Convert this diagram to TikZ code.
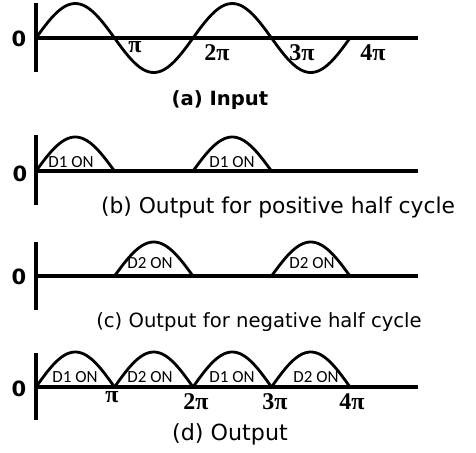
\documentclass[tikz,border=0pt]{standalone}
\usepackage{fontspec}
\usepackage{tikz}
\usetikzlibrary{positioning}
\newfontfamily\capfont{DejaVu Sans}
\newfontfamily\pifont{Liberation Serif}
\newfontfamily\tagfont{Carlito}

\begin{document}
\begin{tikzpicture}[
  x=0.5pt, y=-0.5pt,
  axis/.style={line width=1.6pt},
  wave/.style={line width=1.4pt, line join=round},
  zero/.style={font=\capfont\bfseries\fontsize{10.5}{11}\selectfont, inner sep=0pt},
  tick/.style={font=\pifont\bfseries\fontsize{12}{13}\selectfont, inner sep=0pt},
  tag/.style={font=\tagfont\fontsize{8.5}{9}\selectfont, inner sep=0pt},
  cap/.style={font=\capfont\fontsize{#1}{12}\selectfont, inner sep=0pt},
]
\useasboundingbox (0,0) rectangle (476,452);

% (a) input wave
\draw[axis] (36,3) -- (36,72);
\draw[axis] (36,38) -- (418,38);
\draw[wave] plot[domain=0:720, samples=121] ({36+\x/180*78.5},{38-34.5*sin(\x)});
\node[zero] (zeroA) at (19,39) {0};
\node[tick] (piA) at (135,47) {π};
\node[tick] (twopiA) at (217,53) {2π};
\node[tick] (threepiA) at (302,53) {3π};
\node[tick] (fourpiA) at (373,53) {4π};
\node[cap=9.6, font=\capfont\bfseries\fontsize{9.8}{12}\selectfont] (capA) at (220,100) {(a) Input};

% (b) positive half cycle
\draw[axis] (36,135) -- (36,205);
\draw[axis] (36,171) -- (418,171);
\foreach \s in {36,193}
  \draw[wave] plot[domain=0:180, samples=41] ({\s+\x/180*78.5},{171-34*sin(\x)});
\node[zero] (zeroB) at (20,174) {0};
\node[tag] (onB1) at (71,162) {D1 ON};
\node[tag] (onB2) at (232,162) {D1 ON};
\node[cap=10.9] (capB) at (278,207) {(b) Output for positive half cycle};

% (c) negative half cycle
\draw[axis] (36,242) -- (36,310);
\draw[axis] (36,276) -- (418,276);
\foreach \s in {114.5,271.5}
  \draw[wave] plot[domain=0:180, samples=41] ({\s+\x/180*78.5},{276-34*sin(\x)});
\node[zero] (zeroC) at (19,277) {0};
\node[tag] (onC1) at (150,263) {D2 ON};
\node[tag] (onC2) at (312,263) {D2 ON};
\node[cap=9.8] (capC) at (259,322) {(c) Output for negative half cycle};

% (d) full wave output
\draw[axis] (36,353) -- (36,420);
\draw[axis] (36,387) -- (418,387);
\foreach \s in {0,1,2,3}
  \draw[wave] plot[domain=0:180, samples=41] ({36+78.5*\s+\x/180*78.5},{387-35*sin(\x)});
\node[zero] (zeroD) at (19,389) {0};
\node[tag] (onD1) at (75,377) {D1 ON};
\node[tag] (onD2) at (150,377) {D2 ON};
\node[tag] (onD3) at (232,377) {D1 ON};
\node[tag] (onD4) at (316,377) {D2 ON};
\node[tick] (piD) at (112,397) {π};
\node[tick] (twopiD) at (196,402) {2π};
\node[tick] (threepiD) at (275,402) {3π};
\node[tick] (fourpiD) at (352,402) {4π};
\node[cap=11.1] (capD) at (230,434) {(d) Output};
\end{tikzpicture}
\end{document}
